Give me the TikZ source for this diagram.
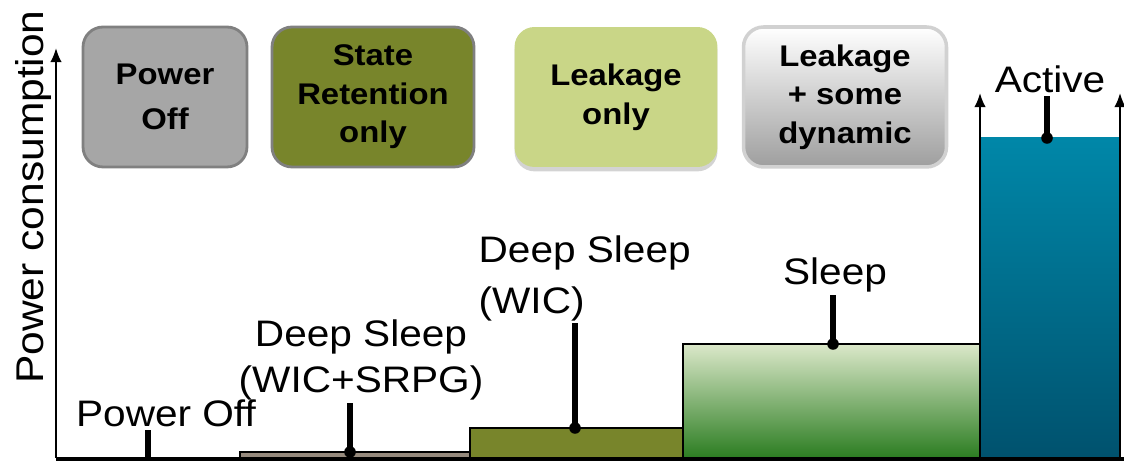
\documentclass[tikz,border=0pt]{standalone}
\usepackage{fontspec}
\setmainfont{Liberation Sans}[FakeStretch=1.1]
\usetikzlibrary{arrows.meta}
\usetikzlibrary{shadows}
\tikzset{keybox/.style = {rounded corners=0.4cm, minimum height=2.8cm, align=center,
                          font=\fontsize{17}{22}\selectfont\bfseries},
         lbl/.style = {inner sep=0pt, outer sep=1.5pt, align=center,
                       font=\fontsize{21}{26}\selectfont},
         stepbar/.style = {line width=1.1pt},
         stalk/.style = {line width=3.3pt},
         upaxis/.style = {line width=1.1pt, -{Latex[length=8pt, width=6.5pt]}}}
\definecolor{mgray}{rgb}{0.65, 0.65, 0.65}
\definecolor{mrim}{rgb}{0.5, 0.5, 0.5}
\definecolor{molive}{rgb}{0.47, 0.52, 0.17}
\definecolor{mleaf}{rgb}{0.79, 0.84, 0.53}
\definecolor{mtaupe}{rgb}{0.59, 0.54, 0.49}
\definecolor{msleeptop}{rgb}{0.86, 0.91, 0.79}
\definecolor{msleepbot}{rgb}{0.17, 0.49, 0.13}
\definecolor{mactop}{rgb}{0.0, 0.53, 0.66}
\definecolor{macbot}{rgb}{0.0, 0.32, 0.43}

\begin{document}
\begin{tikzpicture}[x=0.02cm, y=0.02cm]
    \useasboundingbox (0, 0) rectangle (1124, 462);

    \node [keybox, draw=mrim, line width=1.6pt, fill=mgray, minimum width=3.28cm] (keyoff) at (165, 365) {Power\\[4pt]Off};
    \node [keybox, draw=mrim, line width=1.6pt, fill=molive, minimum width=4.04cm] (keyret) at (373, 365) {State\\Retention\\only};
    \node [keybox, fill=mleaf, minimum width=4.06cm,
           drop shadow={shadow xshift=0pt, shadow yshift=-2.5pt, opacity=0.35}] (keyleak) at (616, 365) {Leakage\\only};
    \node [keybox, draw=black!18, line width=2pt, top color=white, bottom color=black!38,
           minimum width=4.06cm] (keydyn) at (845, 365) {Leakage\\+ some\\dynamic};

    \draw [stepbar, fill=mtaupe] (240, 4) rectangle (470, 10);
    \draw [stepbar, fill=molive] (470, 4) rectangle (683, 34);
    \draw [stepbar, top color=msleeptop, bottom color=msleepbot] (683, 4) rectangle (980, 118);
    \shade [top color=mactop, bottom color=macbot] (980, 4) rectangle (1120, 324);

    \draw [upaxis] (56, 4) -- (56, 414);
    \draw [upaxis] (980, 4) -- (980, 369);
    \draw [upaxis] (1120, 4) -- (1120, 369);
    \draw [line width=2.3pt] (56, 3) -- (1124, 3);

    \node [lbl, rotate=90, anchor=base, font=\fontsize{22}{27}\selectfont] (ylbl) at (43, 265) {Power consumption};

    \coordinate (offpt) at (148, 4);
    \coordinate (srpgpt) at (350, 10);
    \coordinate (wicpt) at (575, 34);
    \coordinate (sleeppt) at (833, 118);
    \coordinate (actpt) at (1047, 324);

    \node [lbl, anchor=base] (offlbl) at (166, 35) {Power Off};
    \node [lbl] (srpglbl) at (361, 102) {Deep Sleep\\(WIC+SRPG)};
    \node [lbl, anchor=west, align=left] (wiclbl) at (476, 184) {Deep Sleep\\[3pt](WIC)};
    \node [lbl, anchor=base] (sleeplbl) at (835, 177) {Sleep};
    \node [lbl, anchor=base] (actlbl) at (1050, 369) {Active};

    \foreach \p/\l in {offpt/offlbl, srpgpt/srpglbl, wicpt/wiclbl, sleeppt/sleeplbl, actpt/actlbl}
        \draw [stalk] (\p) -- (\p |- \l.south);
    \foreach \p in {srpgpt, wicpt, sleeppt, actpt}
        \fill (\p) circle (3.3pt);
\end{tikzpicture}
\end{document}
